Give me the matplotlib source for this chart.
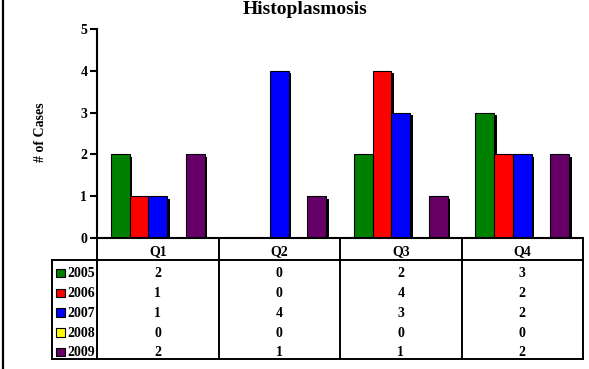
import matplotlib
matplotlib.use('Agg')
import matplotlib.pyplot as plt
import matplotlib.transforms as mtrans
from matplotlib.patches import Rectangle
from matplotlib.lines import Line2D
import numpy as np

quarters = ['Q1', 'Q2', 'Q3', 'Q4']
years = ['2005', '2006', '2007', '2008', '2009']
cases_2005 = [2, 0, 2, 3]
cases_2006 = [1, 0, 4, 2]
cases_2007 = [1, 4, 3, 2]
cases_2008 = [0, 0, 0, 0]
cases_2009 = [2, 1, 1, 2]
series = [cases_2005, cases_2006, cases_2007, cases_2008, cases_2009]
colors = ['#008000', '#FF0000', '#0000FF', '#FFFF00', '#660066']
yticks = [0, 1, 2, 3, 4, 5]

plt.rcParams['font.family'] = ['Liberation Serif', 'DejaVu Serif']
plt.rcParams['font.weight'] = 'bold'

W, H = 589, 369
fig = plt.figure(figsize=(W / 100, H / 100), dpi=100)


def px(l, t, r, b):
    return [l / W, 1 - b / H, (r - l) / W, (b - t) / H]


ax = fig.add_axes(px(97, 29, 583, 238))
ax.set_xlim(0, len(quarters))
ax.set_ylim(0, 5)

bar_w = 0.155
x = np.arange(len(quarters)) + 0.5
shadow = ax.transData + mtrans.ScaledTranslation(2.5 / 100, -2.5 / 100, fig.dpi_scale_trans)
for i, (vals, c) in enumerate(zip(series, colors)):
    xs = x + (i - 2) * bar_w
    ax.bar(xs, vals, width=bar_w, color='black', linewidth=0, transform=shadow, zorder=2)
for i, (vals, c) in enumerate(zip(series, colors)):
    xs = x + (i - 2) * bar_w
    ax.bar(xs, vals, width=bar_w, color=c, edgecolor='black', linewidth=0.8, zorder=3)

for s in ['top', 'right']:
    ax.spines[s].set_visible(False)
ax.spines['left'].set_linewidth(1.5)
ax.spines['bottom'].set_linewidth(1.5)
ax.spines['left'].set_zorder(5)
ax.spines['bottom'].set_zorder(5)
ax.set_xticks([])
ax.set_yticks(yticks)
ax.set_yticklabels([str(t) for t in yticks], fontsize=10, fontweight='bold')
ax.tick_params(axis='y', direction='out', length=5, width=1.5, pad=2)

fig.text(305 / W, 1 - 13.5 / H, 'Histoplasmosis', ha='center', va='baseline',
         fontsize=14, fontweight='bold')
fig.text(40 / W, 1 - 132 / H, '# of Cases', ha='center', va='center',
         rotation=90, fontsize=10, fontweight='bold')

# data table
legw = (97 - 52) / 121.5
h0 = 22 / 19.8
nrows = len(years)
bottom = h0 + nrows
tax = fig.add_axes(px(52, 238, 583, 359))
tax.set_xlim(-legw, len(quarters))
tax.set_ylim(bottom, 0)
tax.axis('off')
lk = dict(color='black', lw=1.4, clip_on=False, solid_capstyle='projecting')
for k in range(len(quarters) + 1):
    tax.plot([k, k], [0, bottom], **lk)
tax.plot([-legw, -legw], [h0, bottom], **lk)
tax.plot([-legw, len(quarters)], [h0, h0], **lk)
tax.plot([-legw, len(quarters)], [bottom, bottom], **lk)
base_off = 17.2 / 19.8
for k, q in enumerate(quarters):
    tax.text(k + 0.5, 17.2 / 19.8, q, ha='center', va='baseline', fontsize=10, fontweight='bold')
for j, (yr, vals, c) in enumerate(zip(years, series, colors)):
    yb = h0 + j + base_off
    for k, v in enumerate(vals):
        tax.text(k + 0.5, yb, str(v), ha='center', va='baseline', fontsize=10, fontweight='bold')
    sw = 8.5 / 121.5
    shh = 8.5 / 19.8
    tax.add_patch(Rectangle((-legw + 4 / 121.5, yb - shh), sw, shh, facecolor=c,
                            edgecolor='black', lw=0.8, clip_on=False))
    tax.text(-legw + 15 / 121.5, yb, yr, ha='left', va='baseline', fontsize=10, fontweight='bold')

fig.add_artist(Line2D([2.5 / W, 2.5 / W], [0, 1], color='black', lw=1.6,
                      transform=fig.transFigure))

fig.savefig('out.png', dpi=100)
